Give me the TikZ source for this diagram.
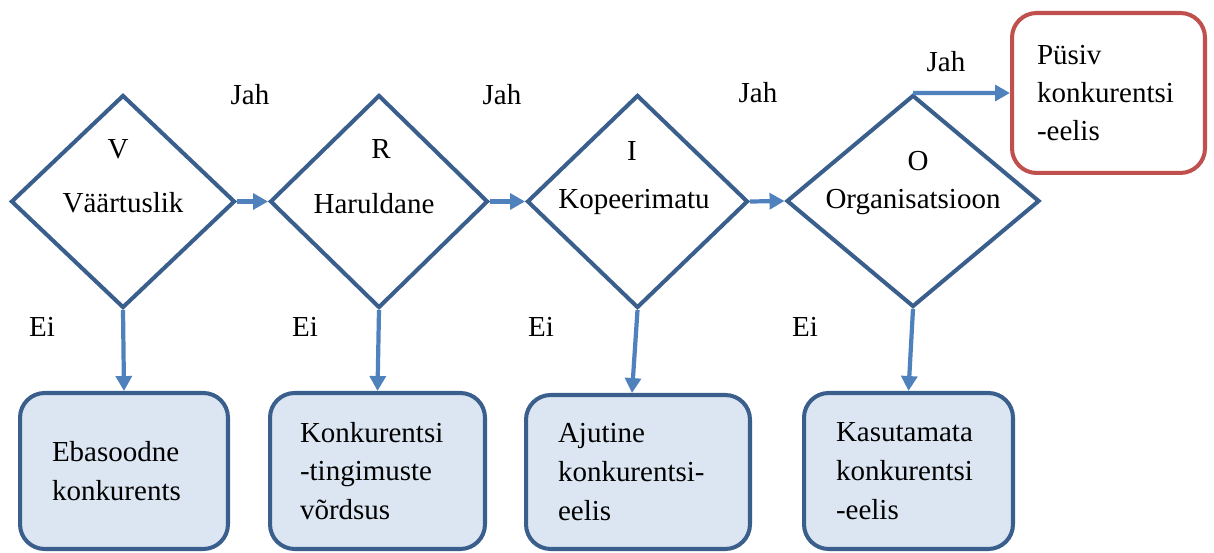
\documentclass[tikz,border=0pt]{standalone}
\usepackage{fontspec}
\setmainfont{Liberation Serif}
\usetikzlibrary{shapes.geometric,arrows.meta,calc}
\definecolor{dborder}{HTML}{3A5F8C}
\definecolor{arrowblue}{HTML}{4F81BD}
\definecolor{boxfill}{HTML}{DCE6F2}
\definecolor{redborder}{HTML}{C0504D}
\tikzset{
  dia/.style={diamond, draw=dborder, line width=2.3pt, inner sep=0pt, line join=miter},
  txt/.style={font=\fontsize{16.5}{21.5}\selectfont, inner sep=0pt},
  outbox/.style={draw=dborder, fill=boxfill, line width=2.3pt, rounded corners=14pt,
    font=\fontsize{16.5}{22}\selectfont, align=left, inner sep=0pt},
  redbox/.style={draw=redborder, fill=white, line width=2.3pt, rounded corners=14pt,
    font=\fontsize{16.5}{21.5}\selectfont, align=left, inner sep=0pt},
  conn/.style={draw=arrowblue, line width=2.4pt, -{Triangle[length=8.5pt,width=9pt]}}
}
\begin{document}
\begin{tikzpicture}[x=0.02cm,y=-0.02cm]
\useasboundingbox (0,0) rectangle (1214,553);
% diamonds
\node[dia, minimum width=4.48cm, minimum height=4.26cm] (d1) at (123,201.5) {};
\node[dia, minimum width=4.36cm, minimum height=4.26cm] (d2) at (379,201.5) {};
\node[dia, minimum width=4.42cm, minimum height=4.26cm] (d3) at (637.5,201.5) {};
\node[dia, minimum width=5.06cm, minimum height=4.24cm] (d4) at (913,201) {};
% diamond texts
\node[txt] (l1) at (118,149) {V};
\node[txt] (t1) at (123,203) {Väärtuslik};
\node[txt] (l2) at (381,149) {R};
\node[txt] (t2) at (374,204) {Haruldane};
\node[txt] (l3) at (632,151) {I};
\node[txt] (t3) at (634,202) {Kopeerimatu};
\node[txt] (l4) at (918,161) {O};
\node[txt] (t4) at (913,202) {Organisatsioon};
% result boxes
\node[outbox, minimum width=4.16cm, minimum height=3.12cm, text width=2.88cm] (b1) at (124,471)
  {Ebasoodne\\konkurents};
\node[outbox, minimum width=4.30cm, minimum height=3.12cm, text width=3.10cm] (b2) at (377.5,471)
  {Konkurentsi\\-tingimuste\\võrdsus};
\node[outbox, minimum width=4.48cm, minimum height=3.08cm, text width=3.20cm] (b3) at (638,472)
  {Ajutine\\konkurentsi-\\eelis};
\node[outbox, minimum width=4.18cm, minimum height=3.12cm, text width=2.90cm] (b4) at (908.5,471)
  {Kasutamata\\konkurentsi\\-eelis};
\node[redbox, minimum width=3.86cm, minimum height=3.20cm, text width=2.86cm] (r) at (1108.5,93)
  {Püsiv\\konkurentsi\\-eelis};
% labels
\node[txt] (j1) at (250,95) {Jah};
\node[txt] (j2) at (502,95) {Jah};
\node[txt] (j3) at (758,93) {Jah};
\node[txt] (j4) at (946,62) {Jah};
\node[txt] (e1) at (42,327) {Ei};
\node[txt] (e2) at (305,327) {Ei};
\node[txt] (e3) at (541,327) {Ei};
\node[txt] (e4) at (805,327) {Ei};
% connectors
\draw[conn] (d1.east) -- (d2.west);
\draw[conn] (d2.east) -- (d3.west);
\draw[conn] (d3.east) -- (d4.west);
\draw[conn] (d4.north) -- (r.west);
\draw[conn] (d1.south) -- (b1.north);
\draw[conn] (d2.south) -- (b2.north);
\draw[conn] (d3.south) -- ($(b3.north)+(-6,0)$);
\draw[conn] (d4.south) -- (b4.north);
\end{tikzpicture}
\end{document}
